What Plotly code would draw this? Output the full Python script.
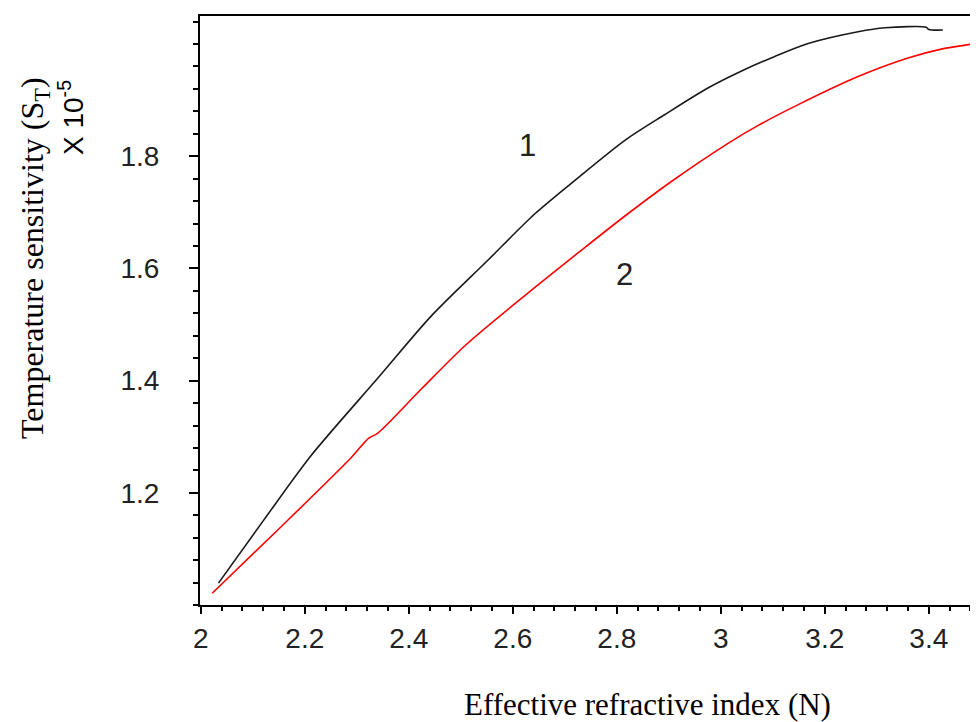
import plotly.graph_objects as go

# ---- data ----
n_curve1 = [2.034, 2.12, 2.21, 2.341, 2.443, 2.5525, 2.642, 2.726, 2.815, 2.892,
            2.976, 3.04, 3.104, 3.168, 3.264, 3.316, 3.395, 3.40, 3.427]
s_curve1 = [1.039, 1.150, 1.264, 1.405, 1.515, 1.615, 1.697, 1.762, 1.828, 1.874,
            1.922, 1.952, 1.978, 2.001, 2.022, 2.029, 2.030, 2.026, 2.025]

n_curve2 = [2.022, 2.155, 2.289, 2.322, 2.341, 2.424, 2.511, 2.629, 2.726, 2.815,
            2.905, 3.014, 3.072, 3.149, 3.264, 3.36, 3.424, 3.488]
s_curve2 = [1.021, 1.140, 1.2625, 1.2966, 1.307, 1.385, 1.4648, 1.556, 1.628, 1.693,
            1.755, 1.823, 1.855, 1.892, 1.942, 1.975, 1.991, 2.0005]

curve_labels = ["1", "2"]
label_n = [2.629, 2.815]
label_s = [1.819, 1.590]

x_tickvals = [2.0, 2.2, 2.4, 2.6, 2.8, 3.0, 3.2, 3.4]
x_ticktext = ["2", "2.2", "2.4", "2.6", "2.8", "3", "3.2", "3.4"]
y_tickvals = [1.2, 1.4, 1.6, 1.8]
y_ticktext = ["1.2", "1.4", "1.6", "1.8"]

x_title = "Effective refractive index (N)"
y_title = "Temperature sensitivity (S<sub>T</sub>)"
y_scale = "X 10<sup>-5</sup>"

# ---- figure ----
W, H = 978, 722
ML, MR, MT, MB = 192, 0, 8, 125

fig = go.Figure()
fig.add_trace(go.Scatter(x=n_curve1, y=s_curve1, mode="lines",
                         line=dict(color="#1a1a1a", width=1.6, shape="spline", smoothing=0.8),
                         showlegend=False, hoverinfo="skip"))
fig.add_trace(go.Scatter(x=n_curve2, y=s_curve2, mode="lines",
                         line=dict(color="#ff0000", width=1.6, shape="spline", smoothing=0.8),
                         showlegend=False, hoverinfo="skip"))

tick_font = dict(family="Liberation Sans, Arial, sans-serif", size=28, color="#222222")

fig.update_layout(
    width=W, height=H,
    margin=dict(l=ML, r=MR, t=MT, b=MB, pad=0),
    plot_bgcolor="white", paper_bgcolor="white",
    showlegend=False,
    xaxis=dict(
        range=[1.9985, 3.51], showgrid=False, zeroline=False,
        showline=True, linecolor="black", linewidth=2, mirror=True,
        ticks="outside", ticklen=7, tickwidth=2, tickcolor="black",
        tickvals=x_tickvals, ticktext=x_ticktext, tickfont=tick_font,
        ticklabelstandoff=0,
        minor=dict(ticks="outside", ticklen=4, tickwidth=2, tickcolor="black",
                   dtick=0.04, tick0=2.0, showgrid=False),
    ),
    yaxis=dict(
        range=[1.0, 2.05], showgrid=False, zeroline=False,
        showline=True, linecolor="black", linewidth=2, mirror=False,
        ticks="outside", ticklen=9, tickwidth=2, tickcolor="black",
        tickvals=y_tickvals, ticktext=y_ticktext, tickfont=tick_font,
        ticklabelstandoff=24,
        minor=dict(ticks="outside", ticklen=5, tickwidth=2, tickcolor="black",
                   dtick=0.04, tick0=1.0, showgrid=False),
    ),
)

pw = W - ML - MR
ph = H - MT - MB


def px2paper_x(px):
    return (px - ML) / pw


def px2paper_y(py):
    return (H - MB - py) / ph


annotations = [
    dict(text=x_title, xref="paper", yref="paper",
         x=px2paper_x(639), y=px2paper_y(696), xanchor="center", yanchor="middle",
         showarrow=False, font=dict(family="Liberation Serif, Times New Roman, serif", size=31, color="black")),
    dict(text=y_title, xref="paper", yref="paper", textangle=-90,
         x=px2paper_x(26), y=px2paper_y(250), xanchor="center", yanchor="middle",
         showarrow=False, font=dict(family="Liberation Serif, Times New Roman, serif", size=32, color="black")),
    dict(text=y_scale, xref="paper", yref="paper", textangle=-90,
         x=px2paper_x(63), y=px2paper_y(110), xanchor="center", yanchor="middle",
         showarrow=False, font=dict(family="Liberation Sans, Arial, sans-serif", size=28, color="black")),
]
for lab, xn, ys in zip(curve_labels, label_n, label_s):
    annotations.append(dict(text=lab, x=xn, y=ys, xref="x", yref="y", showarrow=False,
                            xanchor="center", yanchor="middle",
                            font=dict(family="Liberation Sans, Arial, sans-serif", size=31, color="#222222")))
fig.update_layout(annotations=annotations)

fig.write_html("out.html")
